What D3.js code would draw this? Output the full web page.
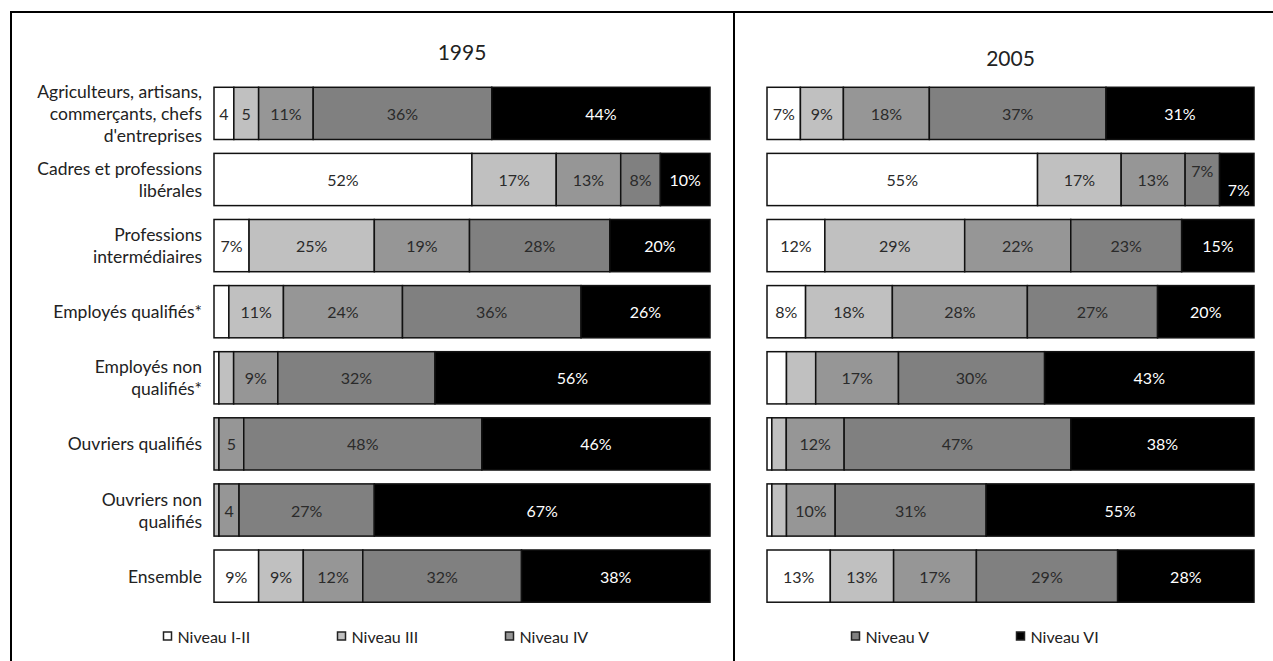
<!DOCTYPE html>
<html>
<head>
<meta charset="utf-8">
<script src="https://cdn.jsdelivr.net/npm/d3@7"></script>
<style>
  html, body { margin: 0; padding: 0; background: #fff; }
  svg { display: block; font-family: Lato, "Open Sans", sans-serif; }
</style>
</head>
<body>
<svg id="chart" width="1273" height="661"></svg>
<script>
// Socio-professional categories (label lines as shown on the left axis)
const categories = [
  "Agriculteurs, artisans, commerçants, chefs d'entreprises",
  "Cadres et professions libérales",
  "Professions intermédiaires",
  "Employés qualifiés*",
  "Employés non qualifiés*",
  "Ouvriers qualifiés",
  "Ouvriers non qualifiés",
  "Ensemble"
];
const categoryLines = [
  ["Agriculteurs, artisans,", "commerçants, chefs", "d'entreprises"],
  ["Cadres et professions", "libérales"],
  ["Professions", "intermédiaires"],
  ["Employés qualifiés*"],
  ["Employés non", "qualifiés*"],
  ["Ouvriers qualifiés"],
  ["Ouvriers non", "qualifiés"],
  ["Ensemble"]
];

// Education levels (stack order, left to right)
const levels = ["Niveau I-II", "Niveau III", "Niveau IV", "Niveau V", "Niveau VI"];
const levelColors = ["#ffffff", "#c0c0c0", "#969696", "#808080", "#000000"];

// Shares (%) per category, one value per level
const values1995 = [
  [4, 5, 11, 36, 44],
  [52, 17, 13, 8, 10],
  [7, 25, 19, 28, 20],
  [3, 11, 24, 36, 26],
  [1, 3, 9, 32, 56],
  [0, 1, 5, 48, 46],
  [0, 1, 4, 27, 67],
  [9, 9, 12, 32, 38]
];
const values2005 = [
  [7, 9, 18, 37, 31],
  [55, 17, 13, 7, 7],
  [12, 29, 22, 23, 15],
  [8, 18, 28, 27, 20],
  [4, 6, 17, 30, 43],
  [1, 3, 12, 47, 38],
  [1, 3, 10, 31, 55],
  [13, 13, 17, 29, 28]
];

// Label style per segment: "%" = value with percent sign, "n" = bare number, "" = no label
const labelStyle1995 = [
  ["n", "n", "%", "%", "%"],
  ["%", "%", "%", "%", "%"],
  ["%", "%", "%", "%", "%"],
  ["", "%", "%", "%", "%"],
  ["", "", "%", "%", "%"],
  ["", "", "n", "%", "%"],
  ["", "", "n", "%", "%"],
  ["%", "%", "%", "%", "%"]
];
const labelStyle2005 = [
  ["%", "%", "%", "%", "%"],
  ["%", "%", "%", "%", "%"],
  ["%", "%", "%", "%", "%"],
  ["%", "%", "%", "%", "%"],
  ["", "", "%", "%", "%"],
  ["", "", "%", "%", "%"],
  ["", "", "%", "%", "%"],
  ["%", "%", "%", "%", "%"]
];

const years = ["1995", "2005"];

const svg = d3.select("#chart");

// Panel frames
const frame = svg.append("g").attr("stroke", "#000").attr("stroke-width", 2);
frame.append("line").attr("x1", 11).attr("x2", 1273).attr("y1", 12).attr("y2", 12);
frame.append("line").attr("x1", 11).attr("x2", 11).attr("y1", 11).attr("y2", 661);
frame.append("line").attr("x1", 734).attr("x2", 734).attr("y1", 11).attr("y2", 661);

const y = d3.scaleBand().domain(categories).range([73.4, 616.1]).padding(0.21);

const keys = levels.map((_, i) => "k" + i);
const color = d3.scaleOrdinal().domain(keys).range(levelColors);

function drawPanel(year, values, styles, x0, x1, titleY) {
  const rows = categories.map((c, i) => {
    const o = { cat: c, idx: i };
    keys.forEach((k, j) => o[k] = values[i][j]);
    return o;
  });
  const series = d3.stack().keys(keys).offset(d3.stackOffsetExpand)(rows);
  const x = d3.scaleLinear().domain([0, 1]).range([x0, x1]);

  const g = svg.append("g");

  g.append("text")
    .attr("x", (x0 + x1) / 2).attr("y", titleY)
    .attr("text-anchor", "middle").attr("dominant-baseline", "central")
    .attr("font-size", 21).attr("fill", "#222")
    .text(year);

  const layer = g.selectAll("g.layer").data(series).join("g")
    .attr("class", "layer").attr("fill", d => color(d.key));

  layer.selectAll("rect").data(d => d).join("rect")
    .attr("x", d => x(d[0]))
    .attr("y", d => y(d.data.cat))
    .attr("width", d => Math.max(0, x(d[1]) - x(d[0])))
    .attr("height", y.bandwidth())
    .attr("stroke", "#111").attr("stroke-width", 1.5);

  series.forEach((s, j) => {
    s.forEach((d, i) => {
      const st = styles[i][j];
      if (!st) return;
      const v = values[i][j];
      let cx = (x(d[0]) + x(d[1])) / 2;
      let cy = y(d.data.cat) + y.bandwidth() / 2;
      // narrow adjacent 7% segments: stagger the two labels
      if (year === "2005" && i === 1 && j === 3) { cy -= 9; }
      if (year === "2005" && i === 1 && j === 4) { cy += 10; cx += 2; }
      g.append("text")
        .attr("x", cx).attr("y", cy)
        .attr("text-anchor", "middle").attr("dominant-baseline", "central")
        .attr("font-size", 16)
        .attr("fill", j === 4 ? "#fff" : "#2a2a2a")
        .text(st === "%" ? v + "%" : String(v));
    });
  });
}

drawPanel(years[0], values1995, labelStyle1995, 214, 710, 51);
drawPanel(years[1], values2005, labelStyle2005, 767, 1254, 57);

// Category labels
const labels = svg.append("g");
categories.forEach((c, i) => {
  const lines = categoryLines[i];
  const cy = y(c) + y.bandwidth() / 2;
  const lh = 22;
  lines.forEach((ln, k) => {
    labels.append("text")
      .attr("x", 202)
      .attr("y", cy + (k - (lines.length - 1) / 2) * lh)
      .attr("text-anchor", "end").attr("dominant-baseline", "central")
      .attr("font-size", 17.5).attr("fill", "#222")
      .text(ln);
  });
});

// Legend
const legendX = [163.5, 337.5, 505.5, 851.5, 1016.5];
const legend = svg.append("g");
levels.forEach((lv, i) => {
  legend.append("rect")
    .attr("x", legendX[i]).attr("y", 632)
    .attr("width", 8).attr("height", 8)
    .attr("fill", levelColors[i]).attr("stroke", "#222").attr("stroke-width", 1.5);
  legend.append("text")
    .attr("x", legendX[i] + 14).attr("y", 636.5)
    .attr("dominant-baseline", "central")
    .attr("font-size", 16).attr("fill", "#222")
    .text(lv);
});
</script>
</body>
</html>
